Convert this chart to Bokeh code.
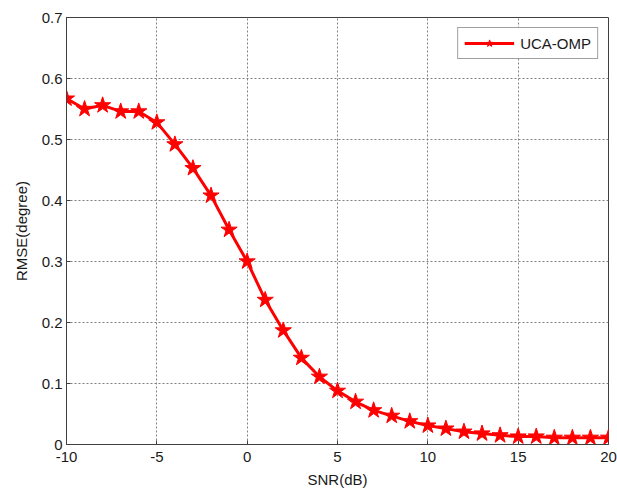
from bokeh.plotting import figure
from bokeh.models import FixedTicker, Range1d, Legend, LegendItem
from bokeh.embed import file_html
from bokeh.resources import INLINE

snr = [-10, -9, -8, -7, -6, -5, -4, -3, -2, -1, 0, 1, 2, 3, 4, 5, 6, 7, 8, 9, 10,
       11, 12, 13, 14, 15, 16, 17, 18, 19, 20]
rmse = [0.567, 0.550, 0.556, 0.546, 0.546, 0.528, 0.492, 0.453, 0.408, 0.352, 0.300,
        0.237, 0.187, 0.142, 0.111, 0.088, 0.070, 0.056, 0.047, 0.038, 0.031,
        0.026, 0.021, 0.018, 0.015, 0.013, 0.013, 0.011, 0.011, 0.011, 0.011]
series_name = "UCA-OMP"

xticks = [-10, -5, 0, 5, 10, 15, 20]
xtick_labels = ["-10", "-5", "0", "5", "10", "15", "20"]
yticks = [0, 0.1, 0.2, 0.3, 0.4, 0.5, 0.6, 0.7]
ytick_labels = ["0", "0.1", "0.2", "0.3", "0.4", "0.5", "0.6", "0.7"]

FONT = "Liberation Sans"
FS = "15px"

p = figure(width=617, height=490, output_backend="svg", toolbar_location=None,
           x_range=Range1d(-10, 20), y_range=Range1d(0, 0.7),
           min_border_left=66, min_border_right=9, min_border_top=17, min_border_bottom=46)
p.background_fill_color = "white"
p.border_fill_color = "white"
p.outline_line_color = "#404040"
p.outline_line_width = 1

p.xaxis.ticker = FixedTicker(ticks=xticks)
p.yaxis.ticker = FixedTicker(ticks=yticks)
p.xaxis.major_label_overrides = dict(zip(xticks, xtick_labels))
p.yaxis.major_label_overrides = dict(zip(yticks, ytick_labels))

for ax in (p.xaxis[0], p.yaxis[0]):
    ax.axis_line_color = "#404040"
    ax.major_tick_line_color = "#404040"
    ax.major_tick_in = 4
    ax.major_tick_out = 0
    ax.minor_tick_line_color = None
    ax.major_label_text_font = FONT
    ax.major_label_text_font_size = FS
    ax.major_label_text_color = "#1a1a1a"
    ax.axis_label_text_font = FONT
    ax.axis_label_text_font_size = FS
    ax.axis_label_text_font_style = "normal"
    ax.axis_label_text_color = "#1a1a1a"

p.xaxis.axis_label = "SNR(dB)"
p.yaxis.axis_label = "RMSE(degree)"
p.xaxis.major_label_standoff = 7
p.yaxis.major_label_standoff = 4
p.xaxis.axis_label_standoff = 6
p.yaxis.axis_label_standoff = 9

for g in (p.xgrid[0], p.ygrid[0]):
    g.grid_line_color = "#808080"
    g.grid_line_dash = "2 2"
    g.grid_line_width = 1

ln = p.line(snr, rmse, line_color="#ff0000", line_width=3)
mk = p.scatter(snr, rmse, marker="star", size=17, fill_color="#ff0000",
               line_color="#ff0000", line_width=1)

legend = Legend(items=[LegendItem(label=series_name, renderers=[ln, mk])],
                location="top_right")
legend.margin = 10
legend.padding = 6
legend.spacing = 0
legend.glyph_width = 50
legend.glyph_height = 18
legend.label_standoff = 6
legend.label_text_font = FONT
legend.label_text_font_size = FS
legend.label_text_color = "#1a1a1a"
legend.border_line_color = "#404040"
legend.border_line_width = 1
legend.background_fill_color = "white"
legend.background_fill_alpha = 1
p.add_layout(legend, "center")

open("out.html", "w").write(file_html(p, INLINE))
